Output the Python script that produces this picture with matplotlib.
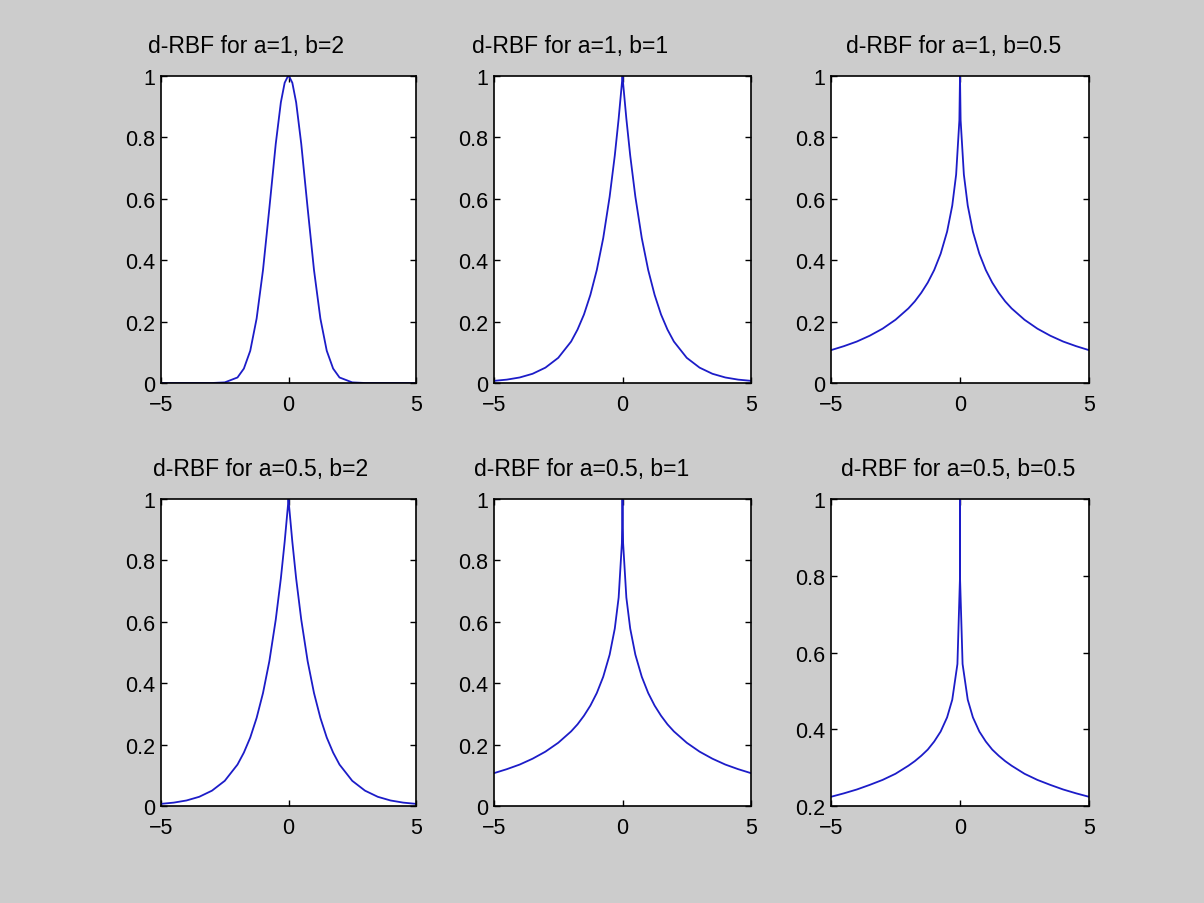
import matplotlib
matplotlib.use("Agg")
import matplotlib.pyplot as plt

# ---- data ----
x_pos = [0.0, 0.024, 0.15, 0.3, 0.5, 0.75, 1.0, 1.25, 1.5, 1.75, 2.0, 2.5, 3.0, 3.5, 4.0, 4.5, 5.0]
x_pos_f = [0.0, 0.003, 0.1, 0.3, 0.5, 0.75, 1.0, 1.25, 1.5, 1.75, 2.0, 2.5, 3.0, 3.5, 4.0, 4.5, 5.0]

y_a1_b2 = [1.0, 0.999, 0.978, 0.914, 0.779, 0.570, 0.368, 0.210, 0.105, 0.047, 0.018, 0.002, 0.0, 0.0, 0.0, 0.0, 0.0]
y_a1_b1 = [1.0, 0.976, 0.861, 0.741, 0.607, 0.472, 0.368, 0.287, 0.223, 0.174, 0.135, 0.082, 0.050, 0.030, 0.018, 0.011, 0.007]
y_a1_b05 = [1.0, 0.856, 0.679, 0.578, 0.493, 0.421, 0.368, 0.327, 0.294, 0.266, 0.243, 0.206, 0.177, 0.154, 0.135, 0.120, 0.107]
y_a05_b2 = y_a1_b1
y_a05_b1 = y_a1_b05
y_a05_b05 = [1.0, 0.791, 0.570, 0.477, 0.431, 0.394, 0.368, 0.347, 0.331, 0.317, 0.305, 0.284, 0.268, 0.255, 0.243, 0.233, 0.224]

titles = ["d-RBF for a=1, b=2", "d-RBF for a=1, b=1", "d-RBF for a=1, b=0.5",
          "d-RBF for a=0.5, b=2", "d-RBF for a=0.5, b=1", "d-RBF for a=0.5, b=0.5"]
series = [(x_pos, y_a1_b2), (x_pos, y_a1_b1), (x_pos, y_a1_b05),
          (x_pos, y_a05_b2), (x_pos, y_a05_b1), (x_pos_f, y_a05_b05)]
ylims = [(0, 1), (0, 1), (0, 1), (0, 1), (0, 1), (0.2, 1)]
xticks = [-5, 0, 5]

# ---- layout ----
W, H = 1204, 904
fig = plt.figure(figsize=(W / 100, H / 100), dpi=100, facecolor="#cccccc")
plt.rcParams["font.family"] = ["Liberation Sans", "DejaVu Sans"]

lefts = [161, 494, 831]
widths = [255, 257, 258]
tops = [77, 500]
ah = 307
title_cx = [[246, 570, 954], [261, 582, 958]]
title_cy = [47, 470]

def fmt(v):
    return "%g" % v

for k in range(6):
    r, c = divmod(k, 3)
    ax = fig.add_axes([lefts[c] / W, 1 - (tops[r] + ah) / H, widths[c] / W, ah / H])
    xs, ys = series[k]
    xfull = [-v for v in reversed(xs[1:])] + list(xs)
    yfull = list(reversed(ys[1:])) + list(ys)
    ax.plot(xfull, yfull, color="#1c1cc8", lw=1.3)
    ax.set_xlim(-5, 5)
    ax.set_ylim(*ylims[k])
    ax.set_xticks(xticks)
    ax.set_xticklabels(["\u22125", "0", "5"])
    yt = [0.2, 0.4, 0.6, 0.8, 1.0] if ylims[k][0] == 0.2 else [0, 0.2, 0.4, 0.6, 0.8, 1.0]
    ax.set_yticks(yt)
    ax.set_yticklabels([fmt(v) for v in yt])
    ax.tick_params(direction="in", top=True, right=True, length=4, width=1,
                   labelsize=15.5, colors="black")
    ax.tick_params(axis="x", pad=8)
    ax.tick_params(axis="y", pad=4)
    for s in ax.spines.values():
        s.set_linewidth(1.2)
    ax.set_facecolor("white")
    fig.text(title_cx[r][c] / W, 1 - title_cy[r] / H, titles[k], ha="center", va="center",
             fontsize=16.5)

fig.savefig("out.png", dpi=100, facecolor=fig.get_facecolor())
